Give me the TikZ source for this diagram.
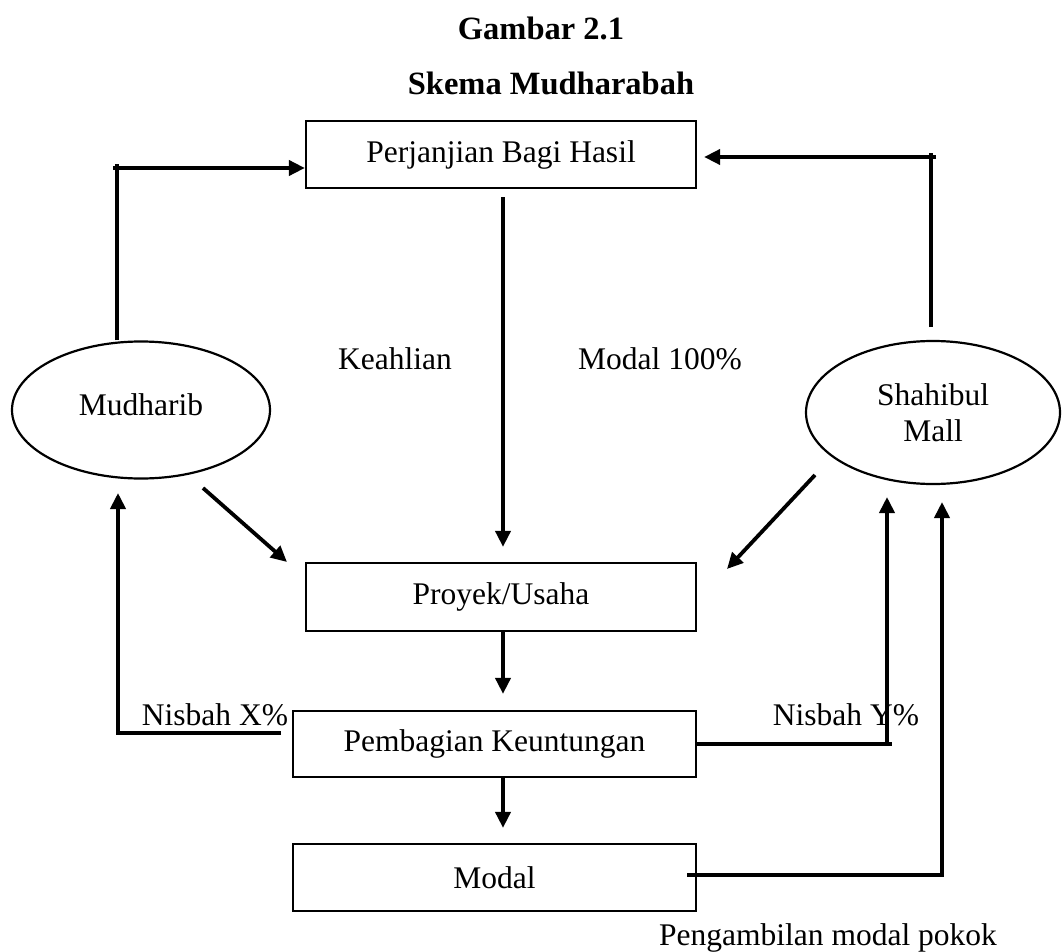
\documentclass[tikz,border=0pt]{standalone}
\usepackage{fontspec}
\setmainfont{Liberation Serif}
\usetikzlibrary{arrows.meta,shapes.geometric,calc}
\newcommand\diafont{\fontsize{31.5}{36}\selectfont}
\begin{document}
\begin{tikzpicture}[x=1pt,y=-1pt,
  box/.style={draw,line width=2.2pt,minimum width=390pt,minimum height=66pt,inner sep=0pt,font=\diafont},
  ell/.style={draw,ellipse,line width=2.2pt,inner sep=0pt,font=\diafont,align=center},
  lbl/.style={font=\diafont,anchor=base,inner sep=0pt},
  thk/.style={line width=3.8pt},
  arr/.style={line width=3.8pt,-{Triangle[length=16pt,width=15pt]}}
]
\useasboundingbox (0,0) rectangle (1062,952);

% titles
\node[lbl,font=\fontsize{32.5}{36}\selectfont\bfseries] (t1) at (541,40) {Gambar 2.1};
\node[lbl,font=\fontsize{32.5}{36}\selectfont\bfseries] (t2) at (551,95) {Skema Mudharabah};

% boxes
\node[box,minimum height=67pt] (per) at (501,154.5) {Perjanjian Bagi Hasil};
\node[box,minimum height=68pt] (pro) at (501,597) {Proyek/Usaha};
\node[box,minimum width=403pt] (pem) at (494.5,744) {Pembagian Keuntungan};
\node[box,minimum width=403pt,minimum height=67pt] (mod) at (494.5,877.5) {Modal};

% ellipses
\node[ell,minimum width=258pt,minimum height=137pt,text height=21.5pt,text depth=11.5pt] (mud) at (141,410) {Mudharib};
\node[ell,minimum width=254pt,minimum height=143pt] (sha) at (933,412.5) {Shahibul\\Mall};

% labels
\node[lbl] (keah) at (395,369) {Keahlian};
\node[lbl] (mod100) at (660,369) {Modal 100\%};
\node[lbl] (nx) at (215,725) {Nisbah X\%};
\node[lbl] (ny) at (846,725) {Nisbah Y\%};
\node[lbl] (pmp) at (828,945) {Pengambilan modal pokok};

% coordinates
\coordinate (lc) at (117,168);
\coordinate (rs) at (931,327);
\coordinate (rc) at (931,157);
\coordinate (m1) at (203,488);
\coordinate (m2) at (287,562);
\coordinate (s1) at (815,475);
\coordinate (s2) at (727,569);
\coordinate (xa) at (281,733);
\coordinate (xb) at (118,733);
\coordinate (xt) at (118,493);
\coordinate (yb) at (887,744);
\coordinate (yt) at (887,497);
\coordinate (ma) at (687,875);
\coordinate (mb) at (942,875);
\coordinate (mt) at (942,502);

% connectors
\draw[thk] (lc |- mud.north) -- ($(lc)+(0,-3.5)$);
\draw[arr] ($(lc)+(-4,0)$) -- (lc -| per.west);
\draw[thk] (rs) -- ($(rc)+(0,-3.5)$);
\draw[arr] ($(rc)+(5,0)$) -- ($(rc -| per.east)+(7,0)$);
\draw[arr] ($(per.south)+(2,8)$) -- ($(pro.north)+(2,-15)$);
\draw[arr] (m1) -- (m2);
\draw[arr] (s1) -- (s2);
\draw[arr] ($(pro.south)+(2,0)$) -- ($(pem.north)+(8.5,-16)$);
\draw[arr] ($(pem.south)+(8.5,0)$) -- ($(mod.north)+(8.5,-15)$);
\draw[arr] (xa) -- (xb) -- (xt);
\draw[thk] (pem.east) -- ($(yb)+(5,0)$);
\draw[arr] ($(yb)+(0,1.9)$) -- (yt);
\draw[thk] (ma) -- ($(mb)+(1.9,0)$);
\draw[arr] (mb) -- (mt);
\end{tikzpicture}
\end{document}
